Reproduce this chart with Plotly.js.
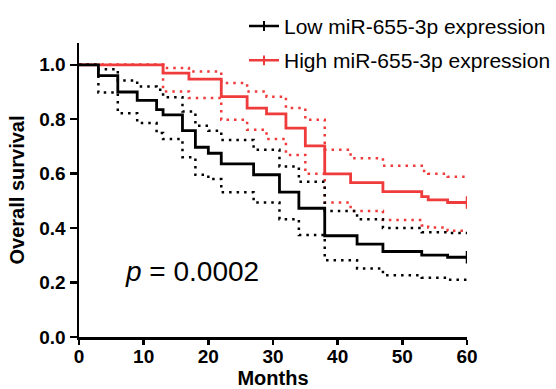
<!DOCTYPE html>
<html>
<head>
<meta charset="utf-8">
<script src="https://cdn.plot.ly/plotly-3.0.1.min.js"></script>
<style>html,body{margin:0;padding:0;background:#fff;}#chart{width:556px;height:389px;}</style>
</head>
<body>
<div id="chart"></div>
<script>
// Low miR-655-3p expression (Kaplan-Meier, step curve)
var lowTimes  = [0, 3, 6, 9, 12, 13, 16, 18, 20, 22, 27, 31, 34, 38, 43, 47, 53, 57, 60];
var lowSurv   = [1.0, 0.96, 0.90, 0.869, 0.835, 0.816, 0.758, 0.697, 0.675, 0.636, 0.596, 0.532, 0.473, 0.372, 0.341, 0.314, 0.301, 0.293, 0.293];
var lowUpper  = [1.0, 0.984, 0.942, 0.92, 0.908, 0.881, 0.828, 0.776, 0.758, 0.724, 0.688, 0.626, 0.57, 0.463, 0.433, 0.40, 0.385, 0.382, 0.382];
var lowLower  = [1.0, 0.898, 0.822, 0.786, 0.749, 0.727, 0.66, 0.596, 0.58, 0.532, 0.494, 0.433, 0.375, 0.282, 0.252, 0.227, 0.218, 0.21, 0.21];

// High miR-655-3p expression
var highTimes = [0, 13, 17, 22, 26, 29, 32, 35, 38, 42, 47, 53, 54, 57, 60];
var highSurv  = [1.0, 0.969, 0.947, 0.883, 0.841, 0.820, 0.767, 0.702, 0.599, 0.567, 0.534, 0.516, 0.504, 0.494, 0.494];
var highUpper = [1.0, 0.988, 0.975, 0.933, 0.902, 0.883, 0.841, 0.798, 0.688, 0.657, 0.629, 0.61, 0.60, 0.589, 0.589];
var highLower = [1.0, 0.902, 0.878, 0.798, 0.761, 0.727, 0.669, 0.60, 0.494, 0.463, 0.43, 0.41, 0.402, 0.39, 0.39];

var seriesNames = ['Low miR-655-3p expression', 'High miR-655-3p expression'];
var xTicks = [0, 10, 20, 30, 40, 50, 60];
var yTicks = [0, 0.2, 0.4, 0.6, 0.8, 1.0];
var yTickText = ['0.0', '0.2', '0.4', '0.6', '0.8', '1.0'];
var pText = '<i>p</i> = 0.0002';

var BLACK = '#000000';
var RED = '#EF3B3B';
var DOT = '2.5px,5px';
var FONT = 'Liberation Sans, Arial, sans-serif';

function band(x, y, color) {
  return {x: x, y: y, type: 'scatter', mode: 'lines', line: {shape: 'hv', color: color, width: 2.5, dash: DOT}, showlegend: false, hoverinfo: 'skip'};
}
function curve(x, y, color) {
  return {x: x, y: y, type: 'scatter', mode: 'lines', line: {shape: 'hv', color: color, width: 2.8}, showlegend: false};
}
function censor(x, y, color) {
  return {x: [x[x.length - 1]], y: [y[y.length - 1]], type: 'scatter', mode: 'markers',
    marker: {symbol: 'line-ns', size: 9, line: {color: color, width: 2.5}}, showlegend: false};
}
function legendEntry(name, color, grp) {
  return {x: [null], y: [null], type: 'scatter', mode: 'lines+markers', name: name, legendgroup: grp,
    line: {color: color, width: 2.5}, marker: {symbol: 'line-ns', size: 7, line: {color: color, width: 2}}};
}

var data = [
  band(highTimes, highUpper, RED),
  band(highTimes, highLower, RED),
  band(lowTimes, lowUpper, BLACK),
  band(lowTimes, lowLower, BLACK),
  curve(highTimes, highSurv, RED),
  curve(lowTimes, lowSurv, BLACK),
  censor(highTimes, highSurv, RED),
  censor(lowTimes, lowSurv, BLACK),
  legendEntry(seriesNames[0], BLACK, 'a'),
  legendEntry(seriesNames[1], RED, 'b')
];

var layout = {
  width: 556, height: 389,
  margin: {l: 79, r: 89, t: 43, b: 52, pad: 0, autoexpand: false},
  paper_bgcolor: '#fff', plot_bgcolor: '#fff',
  font: {family: FONT, color: '#000'},
  showlegend: true,
  legend: {xref: 'container', yref: 'container', x: 1.0, xanchor: 'right', y: 0.985, yanchor: 'top',
    font: {size: 21, family: FONT, color: '#000'}, tracegroupgap: 4, bgcolor: 'rgba(0,0,0,0)', traceorder: 'grouped'},
  xaxis: {range: [0, 60], tickvals: xTicks, ticks: 'outside', ticklen: 5, tickwidth: 2.5, tickcolor: '#000',
    showline: true, linewidth: 2.5, linecolor: '#000', showgrid: false, zeroline: false, automargin: true,
    ticklabelstandoff: -4,
    tickfont: {size: 19, family: FONT, weight: 'bold'},
    title: {text: '<b>Months</b>', font: {size: 20, family: FONT}, standoff: 3}},
  yaxis: {range: [0, 1.08], tickvals: yTicks, ticktext: yTickText, ticks: 'outside', ticklen: 7, tickwidth: 2.5, tickcolor: '#000',
    showline: true, linewidth: 2.5, linecolor: '#000', showgrid: false, zeroline: false, automargin: false,
    tickfont: {size: 19, family: FONT, weight: 'bold'},
    title: {text: '<b>Overall survival</b>', font: {size: 20, family: FONT}, standoff: 10}},
  annotations: [{text: pText, x: 6.8, y: 0.24, xref: 'x', yref: 'y', xanchor: 'left', yanchor: 'middle',
    showarrow: false, font: {size: 28, family: FONT, color: '#000'}}]
};

Plotly.newPlot('chart', data, layout, {displayModeBar: false, staticPlot: true});
</script>
</body>
</html>
